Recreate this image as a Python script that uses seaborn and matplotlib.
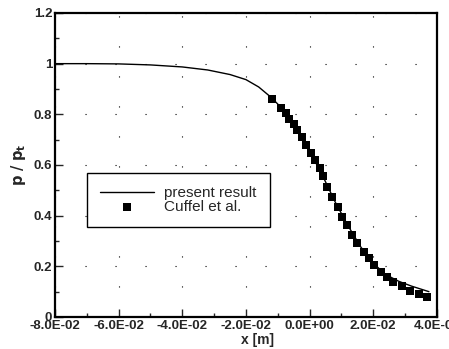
import numpy as np
import pandas as pd
import seaborn as sns
import matplotlib
matplotlib.use('Agg')
import matplotlib.pyplot as plt
from matplotlib.ticker import MultipleLocator, FuncFormatter

# present result (solid line)
x_line = [-0.080, -0.070, -0.060, -0.050, -0.040, -0.032, -0.025, -0.020, -0.016,
          -0.012, -0.008, -0.004, 0.000, 0.004, 0.008, 0.012, 0.016, 0.020,
          0.024, 0.028, 0.032, 0.0375]
p_line = [1.000, 1.000, 0.999, 0.995, 0.987, 0.975, 0.957, 0.937, 0.908,
          0.866, 0.815, 0.745, 0.655, 0.560, 0.455, 0.362, 0.278, 0.212,
          0.167, 0.141, 0.122, 0.100]

# Cuffel et al. (squares)
x_cuffel = [-0.0118, -0.0090, -0.0074, -0.0064, -0.0050, -0.0038, -0.0025, -0.0012,
            0.0004, 0.0017, 0.0032, 0.0041, 0.0056, 0.0072, 0.0088, 0.0103,
            0.0119, 0.0134, 0.0150, 0.0171, 0.0187, 0.0202, 0.0223, 0.0244,
            0.0263, 0.0291, 0.0315, 0.0343, 0.0369]
p_cuffel = [0.859, 0.826, 0.804, 0.782, 0.760, 0.738, 0.709, 0.679,
            0.646, 0.620, 0.587, 0.555, 0.514, 0.475, 0.435, 0.396,
            0.363, 0.324, 0.291, 0.258, 0.232, 0.205, 0.179, 0.159,
            0.139, 0.122, 0.104, 0.091, 0.078]

df_line = pd.DataFrame({'x': x_line, 'p': p_line})
df_exp = pd.DataFrame({'x': x_cuffel, 'p': p_cuffel})

sns.set_style('ticks')
plt.rcParams['font.family'] = ['Liberation Sans', 'DejaVu Sans']

fig = plt.figure(figsize=(4.49, 3.49), dpi=100)
ax = fig.add_axes([0.1225, 0.0917, 0.8505, 0.8711])

sns.lineplot(data=df_line, x='x', y='p', color='black', linewidth=1.0,
             label='present result', ax=ax, zorder=3)
sns.scatterplot(data=df_exp, x='x', y='p', color='black', marker='s', s=38,
                linewidth=0, label='Cuffel et al.', ax=ax, zorder=4)

ax.set_xlim(-0.08, 0.04)
ax.set_ylim(0, 1.2)
ax.xaxis.set_major_locator(MultipleLocator(0.02))
ax.xaxis.set_minor_locator(MultipleLocator(0.01))
ax.yaxis.set_major_locator(MultipleLocator(0.2))
ax.yaxis.set_minor_locator(MultipleLocator(0.1))
ax.xaxis.set_major_formatter(FuncFormatter(lambda v, pos: f'{v:.1E}'))
ax.yaxis.set_major_formatter(FuncFormatter(lambda v, pos: f'{v:g}'))

ax.tick_params(which='both', direction='in', width=1.0, top=False, right=False)
ax.tick_params(which='major', length=6, labelsize=9.5, pad=2)
ax.tick_params(which='minor', length=3)
for lab in ax.get_xticklabels() + ax.get_yticklabels():
    lab.set_fontweight('bold')

for sp in ax.spines.values():
    sp.set_linewidth(1.6)
    sp.set_color('black')

# sparse dotted grid at the major ticks
ax.grid(True, which='major', color='black', linewidth=0.8, linestyle=(0, (1, 26)))

ax.set_xlabel('x [m]', fontsize=10, fontweight='bold', labelpad=0)
ax.set_ylabel(r'$\mathbf{p\ /\ p_t}$', fontsize=10.5, labelpad=4)
ax.xaxis.set_label_coords(0.53, -0.052)

leg = ax.legend(loc='upper left', bbox_to_anchor=(0.084, 0.474), borderaxespad=0,
                fontsize=11, frameon=True, fancybox=False, edgecolor='black',
                framealpha=1, handlelength=3.5, handletextpad=0.7, labelspacing=0.0,
                borderpad=0.85, scatterpoints=1)
leg.get_frame().set_linewidth(1.0)

fig.savefig('out.png', dpi=100)
